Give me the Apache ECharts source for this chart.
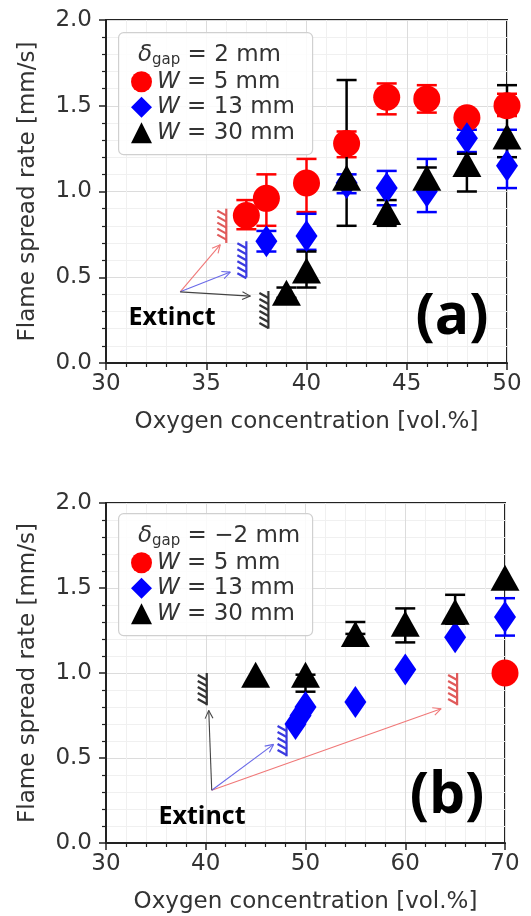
<!DOCTYPE html>
<html>
<head>
<meta charset="utf-8">
<script src="https://cdn.jsdelivr.net/npm/echarts@6/dist/echarts.min.js"></script>
<style>
  html, body { margin: 0; padding: 0; background: #fff; }
  #chart { width: 531px; height: 916px; }
</style>
</head>
<body>
<div id="chart"></div>
<script>
// ---- panel (a): gap = 2 mm ----
const a5x = [37, 38, 40, 42, 44, 46, 48, 50]
const a5y = [0.86, 0.96, 1.05, 1.28, 1.55, 1.54, 1.43, 1.50]
const a5lo = [0.78, 0.80, 0.88, 1.20, 1.45, 1.46, 1.40, 1.44]
const a5hi = [0.95, 1.10, 1.19, 1.35, 1.63, 1.62, 1.46, 1.57]

const a13x = [38, 40, 42, 44, 46, 48, 50]
const a13y = [0.71, 0.74, 1.05, 1.02, 1.00, 1.31, 1.15]
const a13lo = [0.65, 0.66, 0.99, 0.92, 0.88, 1.23, 1.02]
const a13hi = [0.77, 0.87, 1.10, 1.12, 1.19, 1.36, 1.36]

const a30x = [39, 40, 42, 44, 46, 48, 50]
const a30y = [0.41, 0.54, 1.08, 0.88, 1.08, 1.16, 1.32]
const a30lo = [0.38, 0.44, 0.80, 0.80, 1.02, 1.00, 1.20]
const a30hi = [0.44, 0.65, 1.65, 0.95, 1.14, 1.22, 1.62]

// extinct walls: [x, yBottom, yTop]
const aWall5 = [36.0, 0.70, 0.90]
const aWall13 = [37.0, 0.50, 0.71]
const aWall30 = [38.1, 0.20, 0.42]
const aArrowFrom = [33.7, 0.415]
const aArrowTo5 = [35.7, 0.69]
const aArrowTo13 = [36.2, 0.53]
const aArrowTo30 = [37.2, 0.39]

// ---- panel (b): gap = -2 mm ----
const b5x = [70]
const b5y = [1.00]
const b5lo = [1.00]
const b5hi = [1.00]

const b13x = [49, 49.5, 50, 55, 60, 65, 70]
const b13y = [0.70, 0.75, 0.80, 0.83, 1.02, 1.21, 1.33]
const b13lo = [0.70, 0.75, 0.80, 0.83, 1.02, 1.21, 1.22]
const b13hi = [0.70, 0.75, 0.80, 0.83, 1.02, 1.21, 1.44]

const b30x = [45, 50, 55, 60, 65, 70]
const b30y = [0.99, 0.99, 1.23, 1.29, 1.36, 1.56]
const b30lo = [0.99, 0.89, 1.23, 1.18, 1.29, 1.56]
const b30hi = [0.99, 0.99, 1.30, 1.38, 1.46, 1.56]

const bWall5 = [65.2, 0.81, 1.00]
const bWall13 = [48.1, 0.51, 0.70]
const bWall30 = [40.1, 0.81, 1.00]
const bArrowFrom = [40.6, 0.31]
const bArrowTo5 = [63.6, 0.79]
const bArrowTo13 = [46.8, 0.58]
const bArrowTo30 = [40.3, 0.78]

const yTicks = [0, 0.5, 1.0, 1.5, 2.0]

const RED = '#ff0000'
const BLUE = '#0000ff'
const BLACK = '#000000'
const FONT = 'DejaVu Sans'
const TXT = '#333'

const names = ['W = 5 mm', 'W = 13 mm', 'W = 30 mm']

const chart = echarts.init(document.getElementById('chart'))

const zip = (xs, ys) => xs.map((x, i) => [x, ys[i]])
const zip3 = (xs, lo, hi) => xs.map((x, i) => [x, lo[i], hi[i]])

function errorSeries(idx, data, color) {
  return {
    type: 'custom',
    xAxisIndex: idx,
    yAxisIndex: idx,
    z: 2,
    silent: true,
    data: data,
    renderItem: (params, api) => {
      const lo = api.value(1)
      const hi = api.value(2)
      if (Math.abs(hi - lo) < 1e-6) return null
      const p1 = api.coord([api.value(0), lo])
      const p2 = api.coord([api.value(0), hi])
      const cw = 10
      const st = { stroke: color, lineWidth: 2.5 }
      return {
        type: 'group',
        children: [
          { type: 'line', shape: { x1: p1[0], y1: p1[1], x2: p2[0], y2: p2[1] }, style: st },
          { type: 'line', shape: { x1: p1[0] - cw, y1: p1[1], x2: p1[0] + cw, y2: p1[1] }, style: st },
          { type: 'line', shape: { x1: p2[0] - cw, y1: p2[1], x2: p2[0] + cw, y2: p2[1] }, style: st }
        ]
      }
    }
  }
}

function scatterSeries(idx, name, data, symbol, size, color) {
  return {
    type: 'scatter',
    name: name,
    xAxisIndex: idx,
    yAxisIndex: idx,
    z: 3,
    symbol: symbol,
    symbolSize: size,
    itemStyle: { color: color, opacity: 1 },
    data: data
  }
}

// hatched "extinct" wall
function wallSeries(idx, wall, color) {
  return {
    type: 'custom',
    xAxisIndex: idx,
    yAxisIndex: idx,
    z: 2,
    silent: true,
    data: [wall],
    renderItem: (params, api) => {
      const pb = api.coord([api.value(0), api.value(1)])
      const pt = api.coord([api.value(0), api.value(2)])
      const w = 9
      const st = { stroke: color, lineWidth: 2.2 }
      const kids = [{ type: 'line', shape: { x1: pb[0], y1: pb[1], x2: pt[0], y2: pt[1] }, style: st }]
      for (let y = pt[1] + 2; y < pb[1] - 3; y += 6) {
        kids.push({ type: 'line', shape: { x1: pb[0] - w, y1: y, x2: pb[0], y2: y + 5 }, style: st })
      }
      return { type: 'group', children: kids }
    }
  }
}

function arrowSeries(idx, from, targets, colors) {
  return {
    type: 'custom',
    xAxisIndex: idx,
    yAxisIndex: idx,
    z: 2,
    silent: true,
    data: targets.map(t => [from[0], from[1], t[0], t[1]]),
    renderItem: (params, api) => {
      const p1 = api.coord([api.value(0), api.value(1)])
      const p2 = api.coord([api.value(2), api.value(3)])
      const ang = Math.atan2(p2[1] - p1[1], p2[0] - p1[0])
      const hl = 9, ha = 0.45
      const st = { stroke: colors[params.dataIndex], lineWidth: 1.1 }
      return {
        type: 'group',
        children: [
          { type: 'line', shape: { x1: p1[0], y1: p1[1], x2: p2[0], y2: p2[1] }, style: st },
          { type: 'line', shape: { x1: p2[0], y1: p2[1], x2: p2[0] - hl * Math.cos(ang - ha), y2: p2[1] - hl * Math.sin(ang - ha) }, style: st },
          { type: 'line', shape: { x1: p2[0], y1: p2[1], x2: p2[0] - hl * Math.cos(ang + ha), y2: p2[1] - hl * Math.sin(ang + ha) }, style: st }
        ]
      }
    }
  }
}

function xAxis(idx, max, interval) {
  return {
    type: 'value',
    gridIndex: idx,
    min: 30,
    max: max,
    interval: interval,
    name: 'Oxygen concentration [vol.%]',
    nameLocation: 'middle',
    nameGap: 48,
    nameTextStyle: { fontFamily: FONT, fontSize: 23, color: TXT },
    axisLine: { show: true, onZero: false, lineStyle: { color: '#222', width: 2 } },
    axisTick: { show: true, inside: false, length: 7, lineStyle: { color: '#222', width: 1.5 } },
    minorTick: { show: true, splitNumber: 5, length: 4, lineStyle: { color: '#222', width: 1.2 } },
    axisLabel: { fontFamily: FONT, fontSize: 23, color: TXT, margin: 10 },
    splitLine: { show: true, lineStyle: { color: '#dcdcdc', width: 1 } },
    minorSplitLine: { show: true, lineStyle: { color: '#f0f0f0', width: 1 } }
  }
}

function yAxis(idx) {
  return {
    type: 'value',
    gridIndex: idx,
    min: yTicks[0],
    max: yTicks[yTicks.length - 1],
    interval: 0.5,
    name: 'Flame spread rate [mm/s]',
    nameLocation: 'middle',
    nameGap: 66,
    nameTextStyle: { fontFamily: FONT, fontSize: 23, color: TXT },
    axisLine: { show: true, onZero: false, lineStyle: { color: '#222', width: 2 } },
    axisTick: { show: true, inside: false, length: 7, lineStyle: { color: '#222', width: 1.5 } },
    minorTick: { show: true, splitNumber: 5, length: 4, lineStyle: { color: '#222', width: 1.2 } },
    axisLabel: { fontFamily: FONT, fontSize: 23, color: TXT, margin: 14, formatter: v => v.toFixed(1) },
    splitLine: { show: true, lineStyle: { color: '#dcdcdc', width: 1 } },
    minorSplitLine: { show: true, lineStyle: { color: '#f0f0f0', width: 1 } }
  }
}

function legend(top) {
  return {
    orient: 'vertical',
    left: 131,
    top: top,
    padding: 0,
    itemGap: 0,
    itemWidth: 21,
    itemHeight: 21,
    selectedMode: false,
    data: [
      { name: names[0], icon: 'circle' },
      { name: names[1], icon: 'diamond' },
      { name: names[2], icon: 'triangle' }
    ],
    formatter: n => n.replace('W', '{i|W}'),
    textStyle: {
      fontFamily: FONT, fontSize: 23, color: TXT, lineHeight: 25.5,
      rich: { i: { fontFamily: FONT, fontSize: 23, color: TXT, fontStyle: 'italic', lineHeight: 25.5 } }
    }
  }
}

function header(text, top) {
  return {
    text: text,
    left: 138,
    top: top,
    padding: 0,
    textStyle: {
      fontFamily: FONT, fontSize: 23, fontWeight: 'normal', color: TXT, lineHeight: 26,
      rich: {
        d: { fontFamily: FONT, fontSize: 23, fontStyle: 'italic', color: TXT, lineHeight: 26 },
        s: { fontFamily: FONT, fontSize: 15, color: TXT, lineHeight: 15, verticalAlign: 'bottom' },
        t: { fontFamily: FONT, fontSize: 23, color: TXT, lineHeight: 26 }
      }
    }
  }
}

function legendBox(y) {
  return {
    type: 'rect',
    left: 118,
    top: y,
    z: 1,
    shape: { width: 194, height: 122, r: 5 },
    style: { fill: 'rgba(255,255,255,0.85)', stroke: '#d0d0d0', lineWidth: 1.2 }
  }
}

function bigText(text, x, y, size) {
  return {
    type: 'text',
    x: x,
    y: y,
    z: 5,
    style: {
      text: text,
      font: 'bold ' + size + 'px "Open Sans"',
      fill: '#000',
      align: 'center',
      verticalAlign: 'middle'
    }
  }
}

const option = {
  animation: false,
  backgroundColor: '#fff',
  grid: [
    { left: 106, top: 20, width: 401, height: 343, show: true, borderColor: '#222', borderWidth: 2, backgroundColor: 'transparent' },
    { left: 106, top: 503, width: 399, height: 340, show: true, borderColor: '#222', borderWidth: 2, backgroundColor: 'transparent' }
  ],
  xAxis: [xAxis(0, 50, 5), xAxis(1, 70, 10)],
  yAxis: [yAxis(0), yAxis(1)],
  title: [
    header('{d|δ}{s|gap}{t| = 2 mm}', 42),
    header('{d|δ}{s|gap}{t| = \u22122 mm}', 523)
  ],
  legend: [legend(69), legend(550)],
  graphic: [
    legendBox(32),
    legendBox(513),
    bigText('Extinct', 172, 318, 25),
    bigText('Extinct', 202, 817, 25),
    bigText('(a)', 452, 318, 57),
    bigText('(b)', 447, 797, 57)
  ],
  series: [
    wallSeries(0, aWall5, '#e05a5a'),
    wallSeries(0, aWall13, '#3a3ae0'),
    wallSeries(0, aWall30, '#333'),
    arrowSeries(0, aArrowFrom, [aArrowTo5, aArrowTo13, aArrowTo30], ['#f07878', '#6a6ae8', '#444']),
    errorSeries(0, zip3(a5x, a5lo, a5hi), RED),
    errorSeries(0, zip3(a13x, a13lo, a13hi), BLUE),
    errorSeries(0, zip3(a30x, a30lo, a30hi), BLACK),
    scatterSeries(0, names[0], zip(a5x, a5y), 'circle', 27, RED),
    scatterSeries(0, names[1], zip(a13x, a13y), 'diamond', [22, 32], BLUE),
    scatterSeries(0, names[2], zip(a30x, a30y), 'triangle', [29, 26], BLACK),

    wallSeries(1, bWall5, '#e05a5a'),
    wallSeries(1, bWall13, '#3a3ae0'),
    wallSeries(1, bWall30, '#333'),
    arrowSeries(1, bArrowFrom, [bArrowTo5, bArrowTo13, bArrowTo30], ['#f07878', '#6a6ae8', '#444']),
    errorSeries(1, zip3(b5x, b5lo, b5hi), RED),
    errorSeries(1, zip3(b13x, b13lo, b13hi), BLUE),
    errorSeries(1, zip3(b30x, b30lo, b30hi), BLACK),
    scatterSeries(1, names[0], zip(b5x, b5y), 'circle', 27, RED),
    scatterSeries(1, names[1], zip(b13x, b13y), 'diamond', [22, 32], BLUE),
    scatterSeries(1, names[2], zip(b30x, b30y), 'triangle', [29, 26], BLACK)
  ]
}

chart.setOption(option)
window.addEventListener('resize', () => chart.resize())
</script>
</body>
</html>
